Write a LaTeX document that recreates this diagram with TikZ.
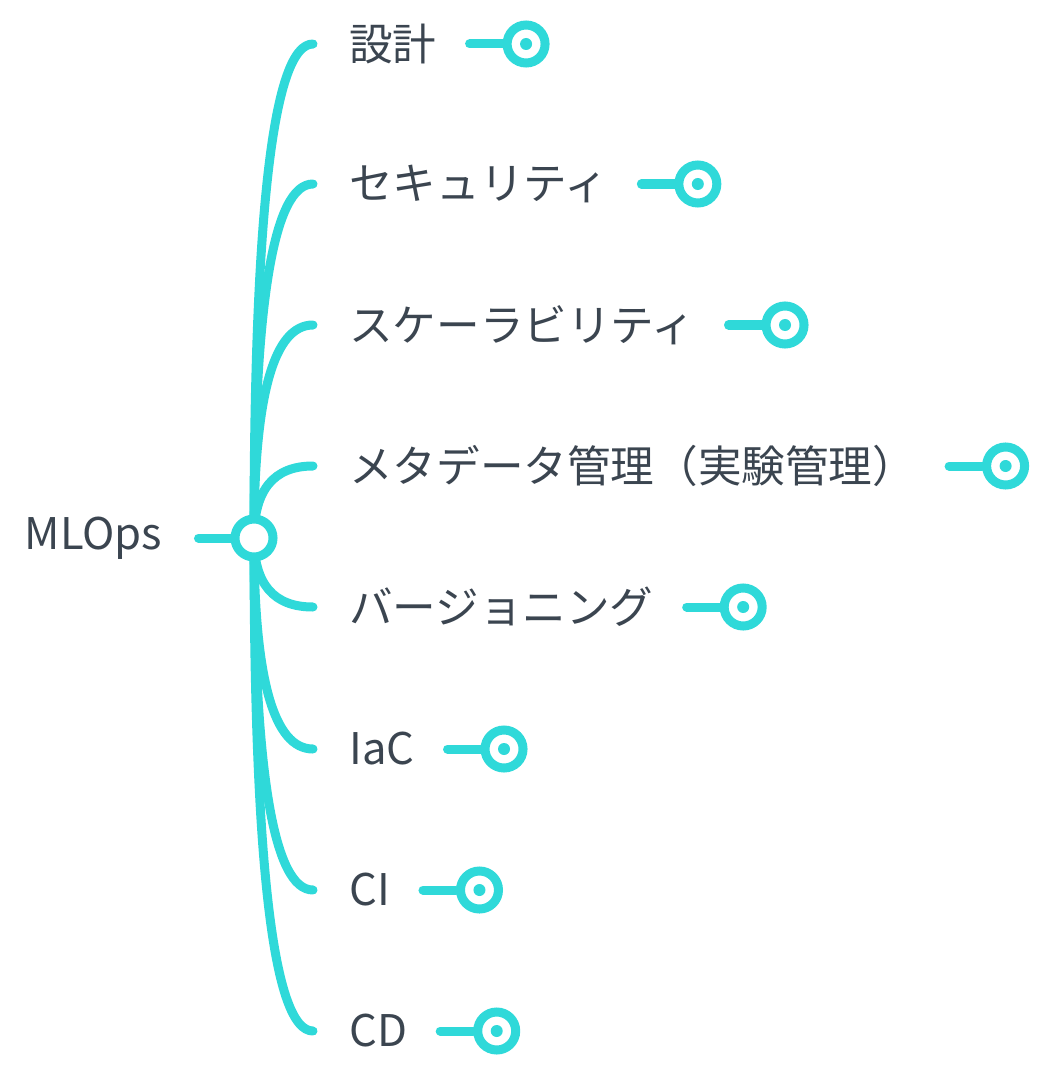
\documentclass[tikz,border=0pt]{standalone}
\usepackage{fontspec}
\setmainfont{Noto Sans CJK JP}
\usetikzlibrary{positioning, calc, backgrounds}
\definecolor{ccian}{HTML}{2FD9D9}
\definecolor{ctexto}{HTML}{3B4550}
\tikzset{
  rama/.style={draw=ccian, line width=0.225cm, line cap=round},
  tema/.style={anchor=west, inner sep=0pt, text=ctexto, font=\fontsize{31}{37}\selectfont},
  centro/.style={circle, draw=ccian, fill=white, line width=0.225cm, minimum size=0.95cm, inner sep=0pt},
  remate/.style={circle, draw=ccian, fill=white, line width=0.225cm, minimum size=0.95cm, inner sep=0pt,
                 path picture={\fill[ccian] (path picture bounding box.center) circle (0.15cm);}},
}
% curva cuadratica del centro a cada rama
\newcommand{\ramacurva}[1]{%
  \draw[rama] (hub.center) .. controls ($(hub.center)!0.667!(hub.center |- #1)$)
                           and ($(#1)!0.667!(hub.center |- #1)$) .. (#1);}

\begin{document}
\begin{tikzpicture}[x=0.025cm, y=-0.025cm, node distance=0.82cm]
        \useasboundingbox (0,0) rectangle (1040,1070);
        \node[centro] (hub) at (254,538) {};
        \node[tema, left=1.7cm of hub] (raiz) {MLOps};
        \coordinate[right=0.9cm of raiz] (r0);
        % ramas
        \coordinate (b1) at (313,44);
        \coordinate (b2) at (313,184);
        \coordinate (b3) at (313,325);
        \coordinate (b4) at (313,466);
        \coordinate (b5) at (313,607);
        \coordinate (b6) at (313,749);
        \coordinate (b7) at (313,890);
        \coordinate (b8) at (313,1031);
        \node[tema, right=0.9cm of b1] (t1) {設計};
        \node[tema, right=0.9cm of b2] (t2) {セキュリティ};
        \node[tema, right=0.9cm of b3] (t3) {スケーラビリティ};
        \node[tema, right=0.9cm of b4] (t4) {メタデータ管理（実験管理）};
        \node[tema, right=0.9cm of b5] (t5) {バージョニング};
        \node[tema, right=0.9cm of b6] (t6) {IaC};
        \node[tema, right=0.9cm of b7] (t7) {CI};
        \node[tema, right=0.9cm of b8] (t8) {CD};
        % remates
        \coordinate[right=of t1] (s1);
        \coordinate[right=of t2] (s2);
        \coordinate[right=of t3] (s3);
        \coordinate[right=of t4] (s4);
        \coordinate[right=of t5] (s5);
        \coordinate[right=of t6] (s6);
        \coordinate[right=of t7] (s7);
        \coordinate[right=of t8] (s8);
        \node[remate, right=0.825cm of s1] (c1) {};
        \node[remate, right=0.825cm of s2] (c2) {};
        \node[remate, right=0.825cm of s3] (c3) {};
        \node[remate, right=0.825cm of s4] (c4) {};
        \node[remate, right=0.825cm of s5] (c5) {};
        \node[remate, right=0.825cm of s6] (c6) {};
        \node[remate, right=0.825cm of s7] (c7) {};
        \node[remate, right=0.825cm of s8] (c8) {};
        \begin{scope}[on background layer]
            \draw[rama] (r0) -- (hub.center);
            \ramacurva{b1}
            \ramacurva{b2}
            \ramacurva{b3}
            \ramacurva{b4}
            \ramacurva{b5}
            \ramacurva{b6}
            \ramacurva{b7}
            \ramacurva{b8}
        \end{scope}
        \draw[rama] (s1) -- (c1);
        \draw[rama] (s2) -- (c2);
        \draw[rama] (s3) -- (c3);
        \draw[rama] (s4) -- (c4);
        \draw[rama] (s5) -- (c5);
        \draw[rama] (s6) -- (c6);
        \draw[rama] (s7) -- (c7);
        \draw[rama] (s8) -- (c8);
    \end{tikzpicture}
\end{document}
